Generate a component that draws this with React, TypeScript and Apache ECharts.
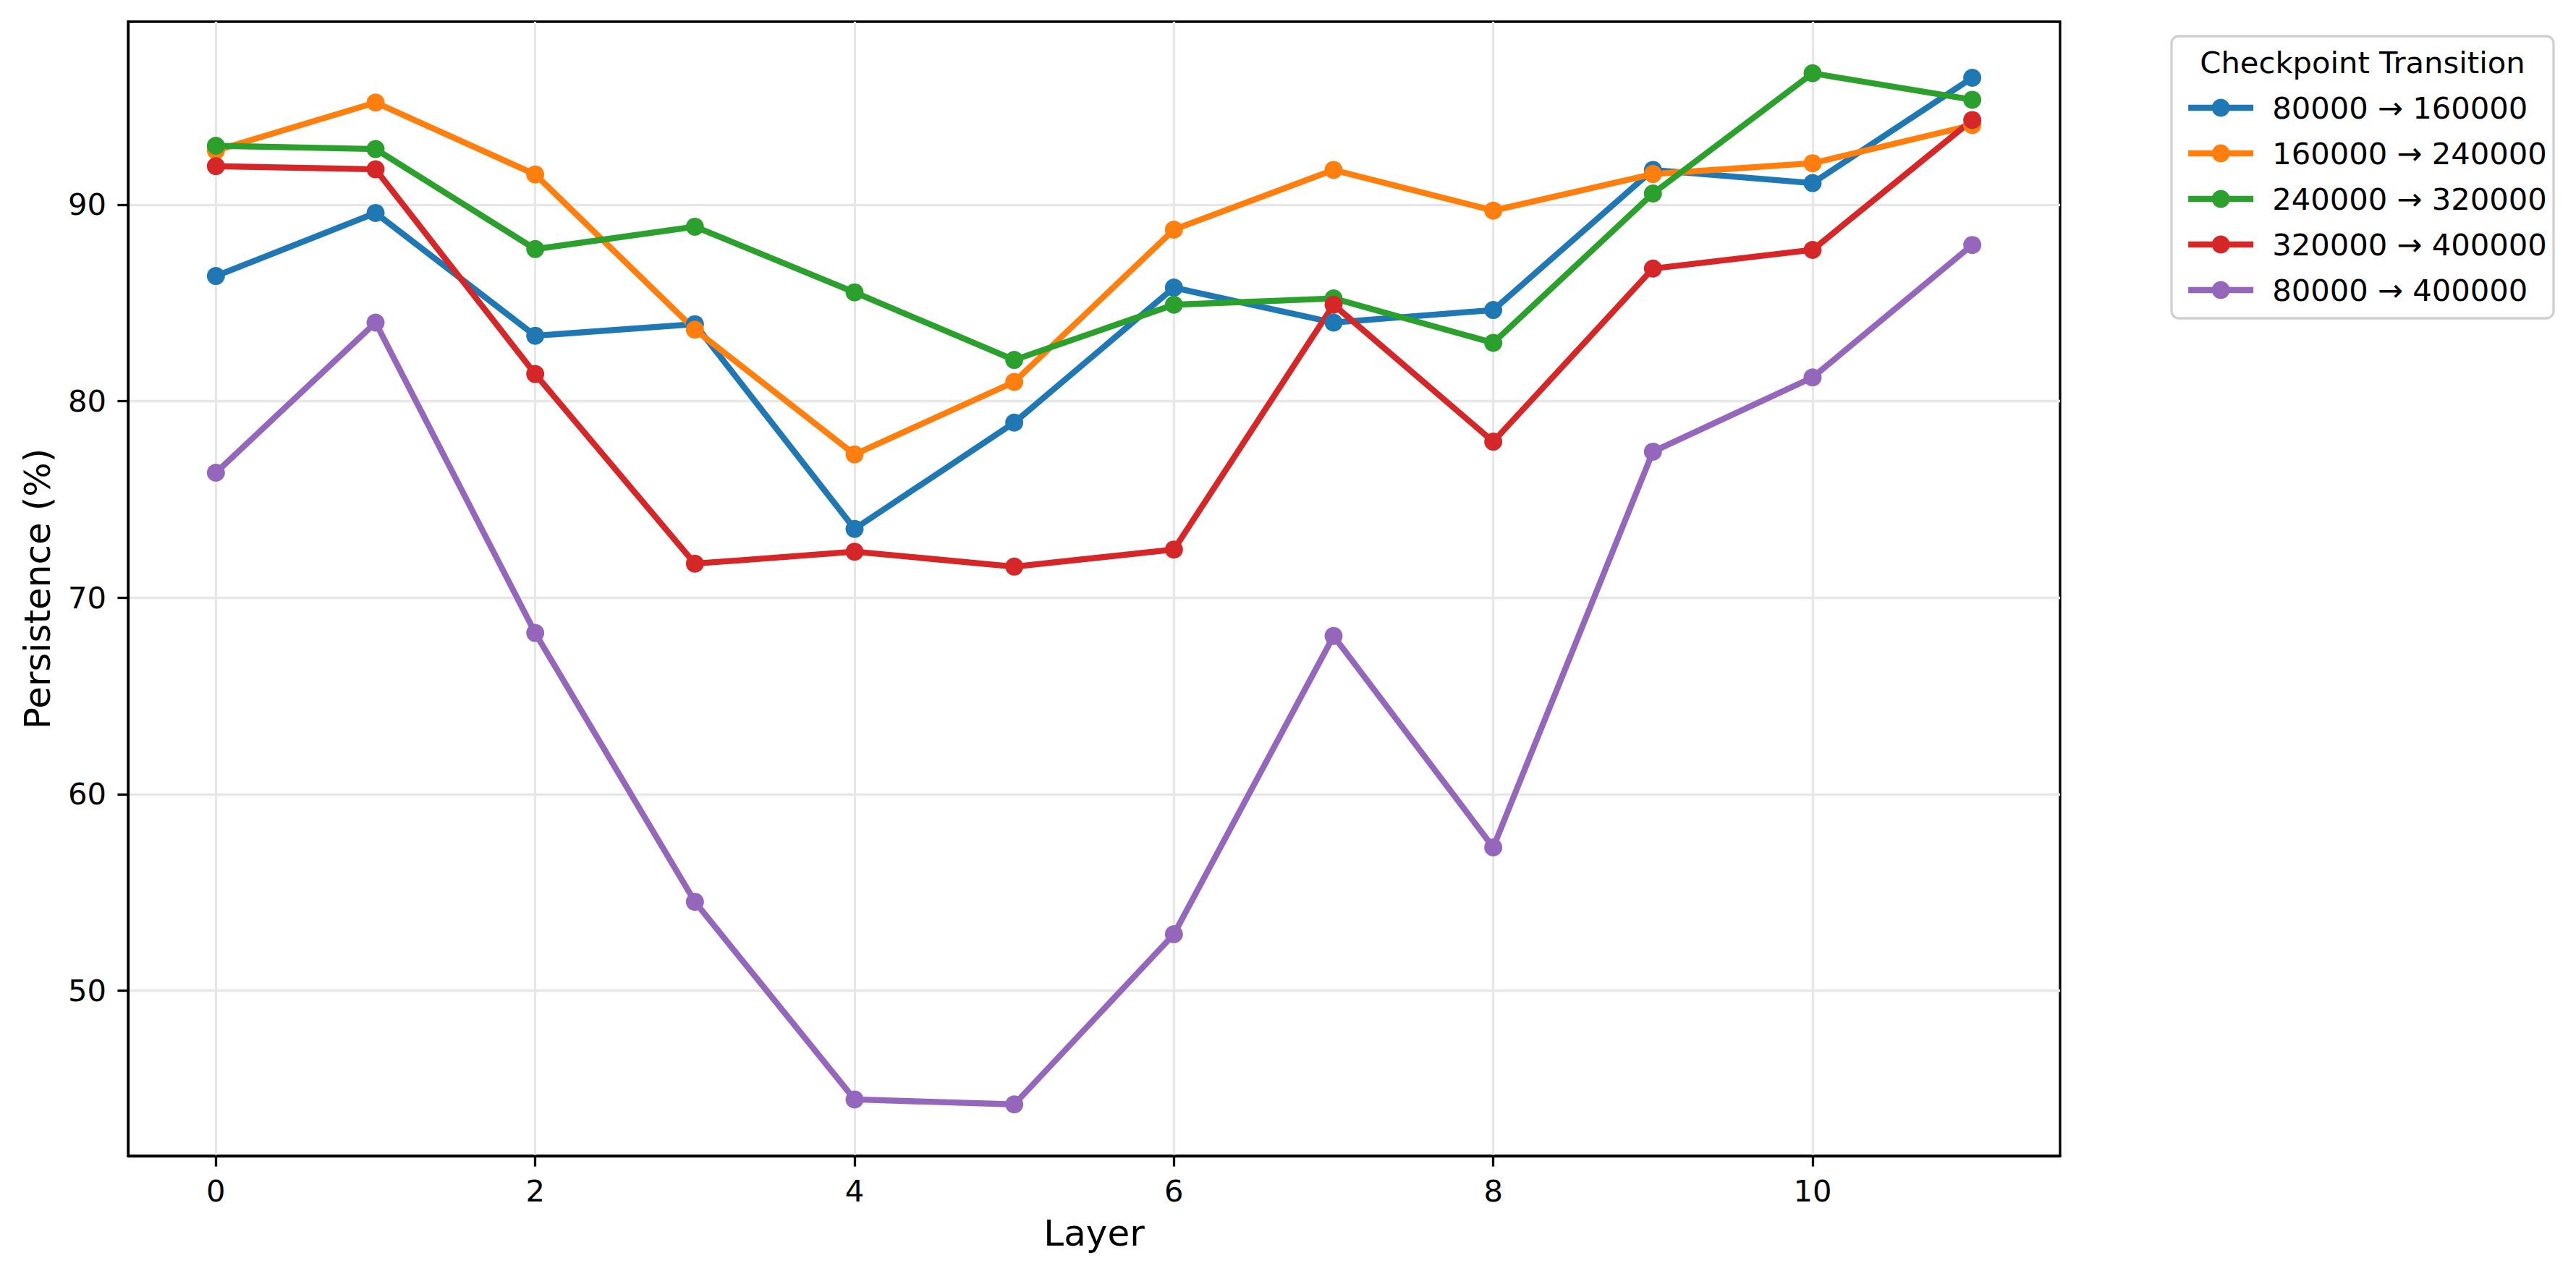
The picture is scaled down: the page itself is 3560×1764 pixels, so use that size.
import React, { useEffect, useRef } from "react";
import * as echarts from "echarts";

const layers = [0, 1, 2, 3, 4, 5, 6, 7, 8, 9, 10, 11];
const seriesNames = [
  "80000 → 160000",
  "160000 → 240000",
  "240000 → 320000",
  "320000 → 400000",
  "80000 → 400000",
];
const blueValues = [86.37, 89.58, 83.33, 83.92, 73.5, 78.91, 85.78, 84.0, 84.64, 91.77, 91.1, 96.46];
const orangeValues = [92.75, 95.2, 91.54, 83.64, 77.29, 80.98, 88.73, 91.77, 89.7, 91.56, 92.11, 94.05];
const greenValues = [93.0, 92.83, 87.74, 88.88, 85.54, 82.1, 84.91, 85.23, 82.97, 90.57, 96.69, 95.34];
const redValues = [91.96, 91.8, 81.38, 71.73, 72.34, 71.58, 72.45, 84.91, 77.94, 86.75, 87.7, 94.31];
const purpleValues = [76.36, 84.0, 68.2, 54.52, 44.46, 44.21, 52.87, 68.05, 57.29, 77.43, 81.21, 87.95];
const colors = ["#1f77b4", "#ff7f0e", "#2ca02c", "#d62728", "#9467bd"];
const xTicks = [0, 2, 4, 6, 8, 10];
const yTicks = [50, 60, 70, 80, 90];

const FONT = "DejaVu Sans";

export default function App() {
  const ref = useRef<HTMLDivElement>(null);
  useEffect(() => {
    if (!ref.current) return;
    const chart = echarts.init(ref.current, null, { renderer: "svg" });
    const allValues = [blueValues, orangeValues, greenValues, redValues, purpleValues];
    const flat = allValues.flat();
    const dMin = Math.min(...flat);
    const dMax = Math.max(...flat);
    const pad = (dMax - dMin) * 0.05;
    const xPad = (layers[layers.length - 1] - layers[0]) * 0.05;

    const series = allValues.map((vals, i) => ({
      name: seriesNames[i],
      type: "line",
      data: vals.map((v, j) => [layers[j], v]),
      symbol: "circle",
      symbolSize: 25,
      showSymbol: true,
      lineStyle: { color: colors[i], width: 8.3 },
      itemStyle: { color: colors[i] },
      z: 3,
    }));

    const axisCommon = {
      axisLine: { show: true, onZero: false, lineStyle: { color: "#000", width: 3.3 } },
      axisTick: { show: true, inside: false, length: 14.6, lineStyle: { color: "#000", width: 3.3 } },
      splitLine: { show: true, lineStyle: { color: "#e7e7e7", width: 3.3 } },
    };

    chart.setOption({
      animation: false,
      backgroundColor: "#ffffff",
      textStyle: { fontFamily: FONT },
      grid: {
        left: 177,
        top: 30,
        width: 2670,
        height: 1568,
        show: true,
        borderColor: "#000",
        borderWidth: 3.3,
        backgroundColor: "transparent",
      },
      xAxis: {
        type: "value",
        min: layers[0] - xPad,
        max: layers[layers.length - 1] + xPad,
        name: "Layer",
        nameLocation: "middle",
        nameGap: 82,
        nameTextStyle: { fontSize: 50, color: "#000", fontFamily: FONT },
        ...axisCommon,
        axisTick: { ...axisCommon.axisTick, customValues: xTicks },
        axisLabel: {
          customValues: xTicks,
          fontSize: 41.7,
          color: "#000",
          fontFamily: FONT,
          margin: 27,
        },
      },
      yAxis: {
        type: "value",
        min: dMin - pad,
        max: dMax + pad,
        name: "Persistence (%)",
        nameLocation: "middle",
        nameGap: 100,
        nameTextStyle: { fontSize: 50, color: "#000", fontFamily: FONT },
        ...axisCommon,
        axisTick: { ...axisCommon.axisTick, customValues: yTicks },
        axisLabel: {
          customValues: yTicks,
          fontSize: 41.7,
          color: "#000",
          fontFamily: FONT,
          margin: 30,
        },
      },
      legend: {
        data: seriesNames,
        orient: "vertical",
        left: 3015,
        top: 123,
        itemWidth: 90,
        itemHeight: 31,
        itemGap: 21,
        lineStyle: { width: 8.3 },
        textStyle: {
          fontSize: 41.7,
          lineHeight: 42,
          color: "#000",
          fontFamily: FONT,
          padding: [0, 0, 0, 21],
        },
        selectedMode: false,
      },
      graphic: [
        {
          type: "rect",
          shape: { x: 3001, y: 50, width: 528, height: 390, r: 10 },
          style: { fill: "rgba(255,255,255,0.8)", stroke: "#d0d0d0", lineWidth: 3.3 },
          z: 0,
          silent: true,
        },
        {
          type: "text",
          x: 3265,
          y: 86,
          style: {
            text: "Checkpoint Transition",
            fontSize: 41.7,
            fontFamily: FONT,
            fill: "#000",
            align: "center",
            verticalAlign: "middle",
          },
          z: 10,
        },
      ],
      series,
    });
    return () => chart.dispose();
  }, []);
  return (
    <div
      ref={ref}
      style={{ position: "fixed", left: 0, top: 0, width: 3560, height: 1764, background: "#fff" }}
    />
  );
}
